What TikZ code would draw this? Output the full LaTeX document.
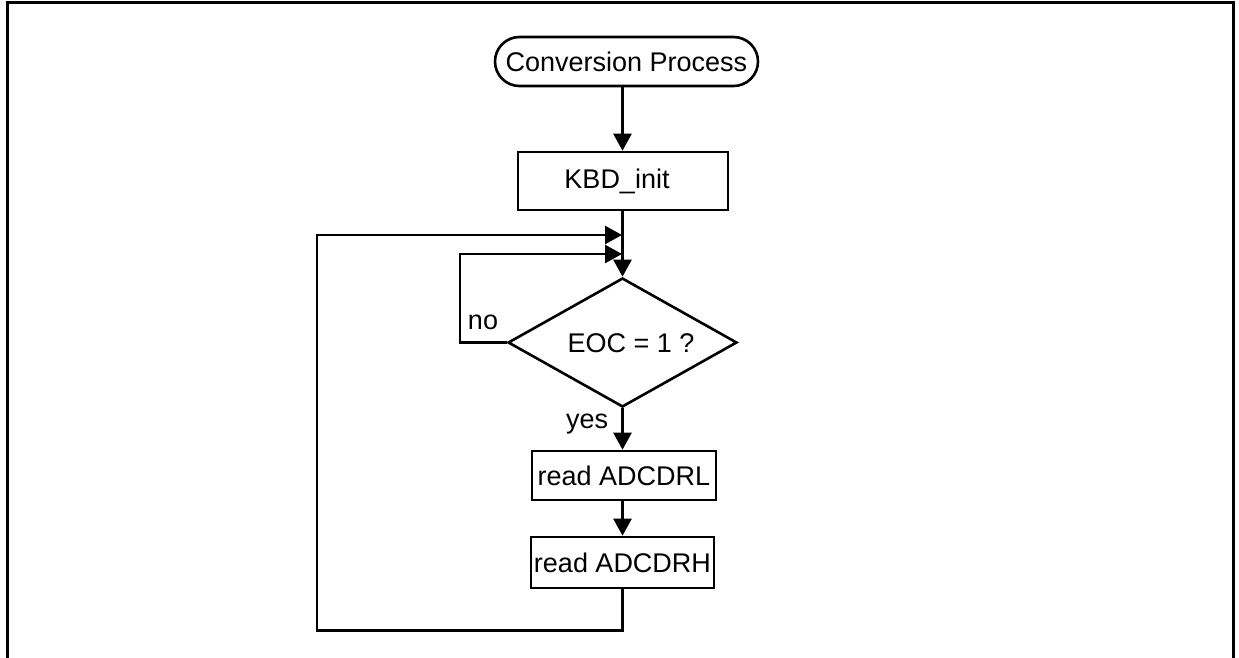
\documentclass[tikz,border=0pt]{standalone}
\usepackage{fontspec}
\setmainfont{Liberation Sans}
\usetikzlibrary{shapes.geometric,shapes.misc,arrows.meta}
\begin{document}
\begin{tikzpicture}[x=1pt,y=-1pt,
  line width=2.6pt,
  every node/.style={font=\fontsize{27}{31}\selectfont, inner sep=0pt},
  box/.style={draw, rectangle, line width=2.6pt},
  term/.style={draw, rounded rectangle, line width=2.6pt},
  dec/.style={draw, diamond, line width=2.6pt, aspect=1.78},
  arr/.style={-{Triangle[length=17pt,width=18pt]}}]
\useasboundingbox (0,0) rectangle (1239,658);
\draw[line width=3pt] (7,658) -- (7,3) -- (1233,3) -- (1233,658);

\node[term, minimum width=263pt, minimum height=49pt] (start) at (626.5,61.5) {Conversion Process};
\node[box, minimum width=210pt, minimum height=58pt] (kbd) at (623,181) {KBD\_init\hspace*{12pt}};
\node[dec, minimum width=229pt, minimum height=129pt] (eoc) at (622.5,342.5) {};
\node[anchor=base] (eoct) at (631,352) {EOC = 1 ?};
\node[box, minimum width=184pt, minimum height=49pt] (rdl) at (624,475.5) {read ADCDRL};
\node[box, minimum width=183pt, minimum height=51pt] (rdh) at (622.5,562.5) {read ADCDRH};
\node[anchor=base] (no) at (483,329) {no};
\node[anchor=base] (yes) at (587,428) {yes};

\coordinate (j1) at (622,235);
\coordinate (j2) at (622,254);
\coordinate (outerL) at (317,235);
\coordinate (innerL) at (460,254);

\draw[arr] (start.south -| eoc.north) -- (kbd.north -| eoc.north);
\draw[arr] (kbd.south -| eoc.north) -- (eoc.north);
\draw[arr] (rdh.south) -- ++(0,41) -| (outerL) -- (j1);
\draw[arr] (eoc.west) -| (innerL) -- (j2);
\draw[arr] (eoc.south) -- (eoc.south |- rdl.north);
\draw[arr] (rdl.south -| eoc.south) -- (rdh.north -| eoc.south);
\end{tikzpicture}
\end{document}
